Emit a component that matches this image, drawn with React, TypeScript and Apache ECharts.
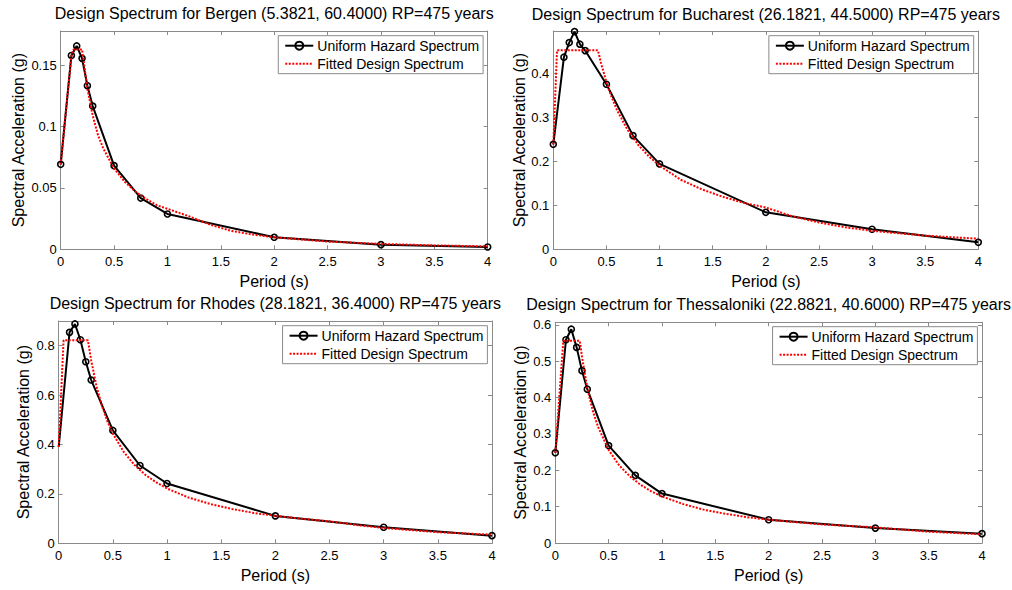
import React, { useEffect, useRef } from "react";
import * as echarts from "echarts";

// ---- Data ----
const cities = ["Bergen", "Bucharest", "Rhodes", "Thessaloniki"];
const titles = [
  "Design Spectrum for Bergen (5.3821, 60.4000) RP=475 years",
  "Design Spectrum for Bucharest (26.1821, 44.5000) RP=475 years",
  "Design Spectrum for Rhodes (28.1821, 36.4000) RP=475 years",
  "Design Spectrum for Thessaloniki (22.8821, 40.6000) RP=475 years",
];
const uhsName = "Uniform Hazard Spectrum";
const fitName = "Fitted Design Spectrum";
const xLabel = "Period (s)";
const yLabel = "Spectral Acceleration (g)";

const periodsUHS = [0, 0.1, 0.15, 0.2, 0.25, 0.3, 0.5, 0.75, 1, 2, 3, 4];
const bergenUHS = [0.0693, 0.158, 0.1658, 0.1557, 0.1334, 0.1168, 0.0682, 0.0418, 0.0288, 0.0098, 0.0038, 0.0019];
const bucharestUHS = [0.2386, 0.4365, 0.4697, 0.4947, 0.466, 0.4515, 0.375, 0.2583, 0.194, 0.084, 0.0455, 0.0159];
const rhodesUHS = [0.39, 0.854, 0.888, 0.824, 0.735, 0.661, 0.457, 0.315, 0.242, 0.111, 0.065, 0.031];
const thessalonikiUHS = [0.248, 0.559, 0.588, 0.538, 0.474, 0.423, 0.268, 0.186, 0.136, 0.064, 0.041, 0.0257];

const bergenFitT = [0, 0.05, 0.1, 0.12, 0.2, 0.25, 0.3, 0.35, 0.4, 0.5, 0.6, 0.7, 0.8, 0.9, 1, 1.2, 1.4, 1.6, 1.8, 2, 2.5, 3, 3.5, 4];
const bergenFit = [0.069, 0.114, 0.157, 0.163, 0.163, 0.131, 0.109, 0.093, 0.082, 0.066, 0.055, 0.047, 0.041, 0.036, 0.033, 0.027, 0.02, 0.015, 0.012, 0.0098, 0.0063, 0.0044, 0.0032, 0.0024];

const bucharestFitT = [0, 0.035, 0.42, 0.45, 0.5, 0.55, 0.6, 0.7, 0.8, 0.9, 1, 1.2, 1.4, 1.6, 1.8, 2, 2.25, 2.5, 2.75, 3, 3.5, 4];
const bucharestFit = [0.238, 0.452, 0.452, 0.422, 0.38, 0.345, 0.316, 0.271, 0.237, 0.211, 0.19, 0.158, 0.136, 0.119, 0.105, 0.095, 0.075, 0.061, 0.05, 0.042, 0.031, 0.024];

const rhodesFitT = [0, 0.045, 0.27, 0.3, 0.35, 0.4, 0.45, 0.5, 0.6, 0.7, 0.8, 0.9, 1, 1.2, 1.4, 1.6, 1.8, 2, 2.25, 2.5, 2.75, 3, 3.5, 4];
const rhodesFit = [0.39, 0.822, 0.822, 0.74, 0.634, 0.555, 0.493, 0.444, 0.37, 0.317, 0.277, 0.247, 0.222, 0.185, 0.159, 0.139, 0.123, 0.111, 0.099, 0.089, 0.074, 0.062, 0.045, 0.035];

const thessalonikiFitT = [0, 0.075, 0.23, 0.25, 0.3, 0.35, 0.4, 0.5, 0.6, 0.7, 0.8, 0.9, 1, 1.2, 1.4, 1.6, 1.8, 2, 2.5, 3, 3.5, 4];
const thessalonikiFit = [0.248, 0.556, 0.556, 0.512, 0.426, 0.365, 0.32, 0.256, 0.213, 0.183, 0.16, 0.142, 0.128, 0.107, 0.091, 0.08, 0.071, 0.064, 0.051, 0.043, 0.031, 0.024];

const uhsValues = [bergenUHS, bucharestUHS, rhodesUHS, thessalonikiUHS];
const fitPeriods = [bergenFitT, bucharestFitT, rhodesFitT, thessalonikiFitT];
const fitValues = [bergenFit, bucharestFit, rhodesFit, thessalonikiFit];
const hideFirstMarker = [false, false, true, false];

const yMax = [0.178, 0.496, 0.9, 0.607];
const yInterval = [0.05, 0.1, 0.2, 0.1];
const xMax = 4;
const xInterval = 0.5;

// ---- Layout ----
const grids = [
  { left: 60.7, top: 31, width: 427, height: 218.3 },
  { left: 553.3, top: 31, width: 425, height: 218.3 },
  { left: 58.7, top: 321, width: 433.3, height: 222.3 },
  { left: 555.3, top: 322.3, width: 426.7, height: 220.7 },
];
const titleY = [13, 14, 303.3, 304];
const yNameGap = [34, 26, 27, 27];
const legendTop = [35.7, 35.7, 325.7, 326.7];

const FONT = "'Liberation Sans', Arial, Helvetica, sans-serif";
const AXIS_GREY = "#8a8a8a";

export default function App() {
  const ref = useRef<HTMLDivElement>(null);
  useEffect(() => {
    if (!ref.current) return;
    const chart = echarts.init(ref.current, null, { renderer: "svg" });

    const xAxes: any[] = [];
    const yAxes: any[] = [];
    const series: any[] = [];
    const legends: any[] = [];
    const graphics: any[] = [];

    cities.forEach((_, i) => {
      const g = grids[i];
      const common = {
        gridIndex: i,
        type: "value",
        axisLine: { show: true, onZero: false, lineStyle: { color: AXIS_GREY, width: 1 } },
        axisTick: { show: true, inside: true, length: 4, lineStyle: { color: AXIS_GREY } },
        splitLine: { show: false },
      };
      xAxes.push({
        ...common,
        position: "bottom",
        min: 0,
        max: xMax,
        interval: xInterval,
        name: xLabel,
        nameLocation: "middle",
        nameGap: 24,
        nameTextStyle: { fontFamily: FONT, fontSize: 16, color: "#000" },
        axisLabel: { fontFamily: FONT, fontSize: 13, color: "#000", margin: 6 },
      });
      xAxes.push({
        ...common,
        position: "top",
        min: 0,
        max: xMax,
        interval: xInterval,
        axisLabel: { show: false },
      });
      yAxes.push({
        ...common,
        position: "left",
        min: 0,
        max: yMax[i],
        interval: yInterval[i],
        name: yLabel,
        nameLocation: "middle",
        nameGap: yNameGap[i],
        nameRotate: 90,
        nameTextStyle: { fontFamily: FONT, fontSize: 16, color: "#000" },
        axisLabel: { fontFamily: FONT, fontSize: 13, color: "#000", margin: 4, showMaxLabel: false },
      });
      yAxes.push({
        ...common,
        position: "right",
        min: 0,
        max: yMax[i],
        interval: yInterval[i],
        axisLabel: { show: false },
      });

      series.push({
        type: "line",
        name: uhsName,
        xAxisIndex: i * 2,
        yAxisIndex: i * 2,
        data: periodsUHS.map((t, k) =>
          k === 0 && hideFirstMarker[i]
            ? { value: [t, uhsValues[i][k]], symbol: "none" }
            : { value: [t, uhsValues[i][k]] }
        ),
        symbol: "circle",
        symbolSize: 6,
        showSymbol: true,
        lineStyle: { color: "#000", width: 2 },
        itemStyle: { color: "rgba(255,255,255,0)", borderColor: "#000", borderWidth: 1.6 },
        emphasis: { disabled: true },
        z: 2,
      });
      series.push({
        type: "line",
        name: fitName,
        xAxisIndex: i * 2,
        yAxisIndex: i * 2,
        data: fitPeriods[i].map((t, k) => [t, fitValues[i][k]]),
        symbol: "none",
        showSymbol: false,
        lineStyle: { color: "#ff0000", width: 2, type: [2, 1.5] },
        itemStyle: { color: "#ff0000" },
        emphasis: { disabled: true },
        z: 3,
      });

      legends.push({
        orient: "vertical",
        right: 1012 - (g.left + g.width - 4.6),
        top: legendTop[i],
        data: [
          uhsName,
          {
            name: fitName,
            itemStyle: { color: "rgba(0,0,0,0)", borderWidth: 0, opacity: 0 },
            lineStyle: { color: "#ff0000", width: 2, type: [2, 1.5], opacity: 1 },
          },
        ],
        itemWidth: 28,
        itemHeight: 10,
        itemGap: 4,
        padding: [3, 4, 3, 6],
        borderColor: AXIS_GREY,
        borderWidth: 1,
        backgroundColor: "#fff",
        selectedMode: false,
        textStyle: { fontFamily: FONT, fontSize: 14, color: "#000", padding: [0, 0, 0, -1] },
      });

      graphics.push({
        type: "text",
        x: g.left + g.width / 2,
        y: titleY[i],
        style: {
          text: titles[i],
          font: `16px ${FONT}`,
          fill: "#000",
          textAlign: "center",
          textVerticalAlign: "middle",
        },
      });
    });

    chart.setOption({
      animation: false,
      backgroundColor: "#fff",
      grid: grids.map((g) => ({ ...g, containLabel: false })),
      xAxis: xAxes,
      yAxis: yAxes,
      legend: legends,
      series,
      graphic: graphics,
    });
    return () => chart.dispose();
  }, []);
  return (
    <div
      ref={ref}
      style={{ position: "fixed", left: 0, top: 0, width: 1012, height: 590, background: "#fff" }}
    />
  );
}
